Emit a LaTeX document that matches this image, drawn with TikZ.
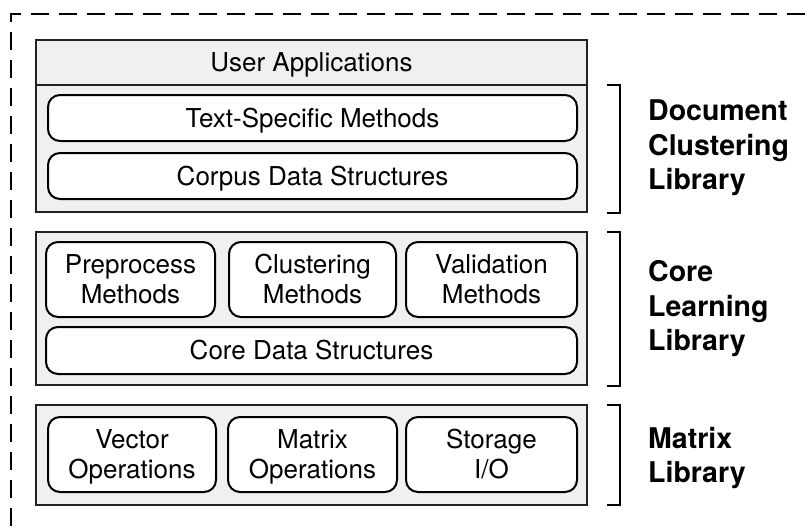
\documentclass[tikz,border=0pt]{standalone}
\usepackage{fontspec}
\setmainfont{TeX Gyre Heros}
\definecolor{panelgray}{HTML}{F0F0F0}
\definecolor{edgegray}{HTML}{222222}
\newcommand{\boxstrut}{\rule[-5.7pt]{0pt}{30pt}}
\tikzset{
  panel/.style={draw=edgegray, line width=2pt, fill=panelgray, rectangle, inner sep=0pt},
  header/.style={draw=edgegray, line width=2pt, fill=panelgray, rectangle, inner sep=0pt,
    font=\fontsize{26}{30}\selectfont},
  module/.style={draw=black, line width=2pt, fill=white, rounded corners=12pt, rectangle,
    inner sep=0pt, align=center, font=\fontsize{26}{30}\selectfont},
  bracketline/.style={draw=black, line width=2pt},
  libname/.style={anchor=west, align=left, inner sep=0pt, font=\fontsize{28.5}{34.5}\selectfont\bfseries},
  outline/.style={draw=black, line width=2pt, dash pattern=on 18pt off 10pt}
}
\begin{document}
\begin{tikzpicture}[x=1pt,y=-1pt]
\useasboundingbox (0,0) rectangle (805,527);
% dashed outer frame
\coordinate (frTR) at (805,14);
\coordinate (frTL) at (11,14);
\coordinate (frBL) at (11,527);
\draw[outline] (frTR) -- (frTL) -- (frBL);

% Document clustering library
\node[panel, minimum width=551pt, minimum height=172pt] (dcl) at (311.5,126) {};
\node[header, minimum width=551pt, minimum height=45pt] (ua) at (311.5,62.5) {\boxstrut User Applications};
\node[module, minimum width=529pt, minimum height=46pt] (tsm) at (312.5,118) {\boxstrut Text-Specific Methods};
\node[module, minimum width=529pt, minimum height=46pt] (cds) at (312.5,176) {\boxstrut Corpus Data Structures};

% Core learning library
\node[panel, minimum width=551pt, minimum height=153pt] (cll) at (311.5,308.5) {};
\node[module, minimum width=169pt, minimum height=75pt] (pm) at (130.5,279.5) {\boxstrut Preprocess\\\boxstrut Methods};
\node[module, minimum width=167pt, minimum height=75pt] (cm) at (312.5,279.5) {\boxstrut Clustering\\\boxstrut Methods};
\node[module, minimum width=171pt, minimum height=75pt] (vm) at (491.5,279.5) {\boxstrut Validation\\\boxstrut Methods};
\node[module, minimum width=531pt, minimum height=47pt] (core) at (311.5,350.5) {\boxstrut Core Data Structures};

% Matrix library
\node[panel, minimum width=551pt, minimum height=100pt] (ml) at (311.5,455) {};
\node[module, minimum width=168pt, minimum height=75pt] (vo) at (132,454.5) {\boxstrut Vector\\\boxstrut Operations};
\node[module, minimum width=169pt, minimum height=75pt] (mo) at (312.5,454.5) {\boxstrut Matrix\\\boxstrut Operations};
\node[module, minimum width=171pt, minimum height=75pt] (sio) at (491.5,454.5) {\boxstrut Storage\\\boxstrut I/O};

% brackets
\coordinate (b1t) at (607,85);  \coordinate (b1b) at (607,213);
\coordinate (b2t) at (607,232); \coordinate (b2b) at (607,386);
\coordinate (b3t) at (607,405); \coordinate (b3b) at (607,505);
\draw[bracketline] (b1t) -- ++(13,0) |- (b1b);
\draw[bracketline] (b2t) -- ++(13,0) |- (b2b);
\draw[bracketline] (b3t) -- ++(13,0) |- (b3b);

% labels
\node[libname] (l1) at (648,148) {Document\\Clustering\\Library};
\node[libname] (l2) at (648,309) {Core\\Learning\\Library};
\node[libname] (l3) at (648,458) {Matrix\\Library};
\end{tikzpicture}
\end{document}
